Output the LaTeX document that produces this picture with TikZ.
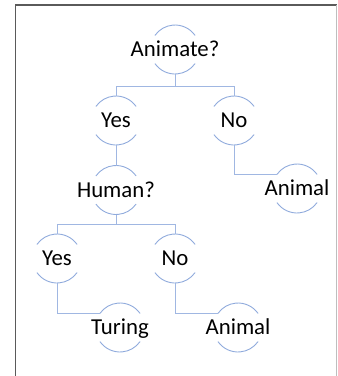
\documentclass[tikz,border=0pt]{standalone}
\usepackage{fontspec}
\setmainfont{Carlito}
\definecolor{arcblue}{RGB}{143,170,220}
\definecolor{lineblue}{RGB}{160,183,226}
\definecolor{framedark}{RGB}{90,90,90}
\definecolor{framelight}{RGB}{190,190,190}
\tikzset{
  tnode/.style={circle, minimum size=49pt, inner sep=0pt, outer sep=0pt, draw=none,
    label={[font=\fontsize{22.8}{27}\selectfont, text=black, inner sep=0pt,
            text height=14.7pt, text depth=0pt]center:#1}},
  halfarc/.style={draw=arcblue, line width=0.9pt},
  conn/.style={draw=lineblue, line width=0.9pt},
}
\newcommand{\arcsof}[1]{%
  \draw[halfarc] (#1.35) arc[start angle=35, end angle=145, radius=24.5pt];
  \draw[halfarc] (#1.215) arc[start angle=215, end angle=325, radius=24.5pt];
}
\begin{document}
\begin{tikzpicture}[x=1pt,y=1pt]
\useasboundingbox (0,0) rectangle (338,-376);
% frame
\draw[framedark, line width=1.5pt] (15.5,-376) -- (15.5,-5) -- (337,-5);
\draw[framelight, line width=1.2pt] (336.6,-5) -- (336.6,-376);
% nodes
\node[tnode={Animate?}] (A) at (175,-49.5) {};
\node[tnode={Yes}] (Y) at (116,-120.5) {};
\node[tnode={No}] (N) at (234,-120.5) {};
\node[tnode={Human?}] (H) at (116,-190) {};
\node[tnode={Animal}] (AL1) at (297,-188.5) {};
\node[tnode={Yes}] (Y2) at (57,-258.5) {};
\node[tnode={No}] (N2) at (175,-258.5) {};
\node[tnode={Turing}] (T) at (120,-327.5) {};
\node[tnode={Animal}] (AL2) at (238,-327.5) {};
\foreach \n in {A,Y,N,H,AL1,Y2,N2,T,AL2} {\arcsof{\n}}
% connectors
\draw[conn] (A.south) -- ++(0,-12) coordinate (ab) -| (Y.north);
\draw[conn] (ab) -| (N.north);
\draw[conn] (Y.south) -- (H.north);
\draw[conn] (N.south) |- (AL1.145);
\draw[conn] (H.south) -- ++(0,-9.5) coordinate (hb) -| (Y2.north);
\draw[conn] (hb) -| (N2.north);
\draw[conn] (Y2.south) |- (T.145);
\draw[conn] (N2.south) |- (AL2.145);
\end{tikzpicture}
\end{document}
